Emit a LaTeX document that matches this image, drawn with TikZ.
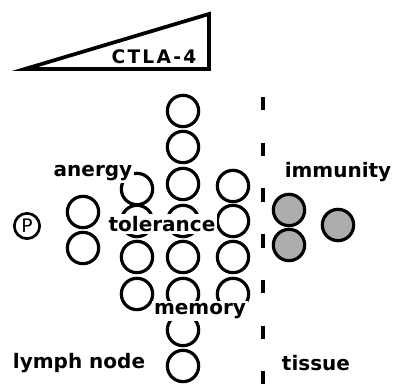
\documentclass[tikz,border=0pt]{standalone}
\usepackage{fontspec}
\setmainfont{DejaVu Sans}
\begin{document}
\begin{tikzpicture}[x=0.75pt,y=-0.75pt,
  cell/.style={draw, circle, line width=2.4pt, minimum size=23.5pt, inner sep=0pt},
  gcell/.style={cell, fill=black!32},
  lab/.style={font=\bfseries\fontsize{15}{15}\selectfont, inner sep=1.5pt},
  mask/.style={lab, fill=white},
  sep/.style={line width=2.8pt, dash pattern=on 10.1pt off 24.2pt}]
\useasboundingbox (0,0) rectangle (394,384);
% CTLA-4 wedge
\coordinate (w1) at (25,69);
\coordinate (w2) at (209,14);
\coordinate (w3) at (209,69);
\draw[line width=2.8pt, line join=miter] (w1) -- (w2) -- (w3) -- cycle;
\node[font=\bfseries\fontsize{14}{14}\selectfont\addfontfeature{LetterSpace=12}, anchor=east] (ctla) at (201,56.5) {CTLA-4};
% separator
\coordinate (dtop) at (263,97);
\coordinate (dbot) at (263,384);
\draw[sep] (dtop) -- (dbot);
% P
\node[draw, circle, line width=2pt, minimum size=19pt, inner sep=0pt, font=\fontsize{14}{14}\selectfont] (p) at (27,226) {P};
% centre column
\foreach \i/\y in {1/111,2/147,3/184,4/221,5/257,6/294,7/330,8/366}
  \node[cell] (m\i) at (183,\y) {};
% column left of centre
\foreach \i/\y in {1/189,2/221,3/257,4/294}
  \node[cell] (l\i) at (137,\y) {};
% column right of centre
\foreach \i/\y in {1/186,2/221,3/257,4/294}
  \node[cell] (r\i) at (233,\y) {};
% far left column
\node[cell] (f1) at (83,212) {};
\node[cell] (f2) at (83,248) {};
% tissue cells
\node[gcell] (g1) at (289,210) {};
\node[gcell] (g2) at (289,245) {};
\node[gcell] (g3) at (338,225) {};
% labels
\node[mask] (anergy) at (93,173) {anergy};
\node[mask] (tolerance) at (162,224) {tolerance};
\node[mask] (memory) at (200,311) {memory};
\node[lab] (immunity) at (338,172) {immunity};
\node[lab] (lymph) at (79,363) {lymph node};
\node[lab] (tissue) at (316,363) {tissue};
\end{tikzpicture}
\end{document}
